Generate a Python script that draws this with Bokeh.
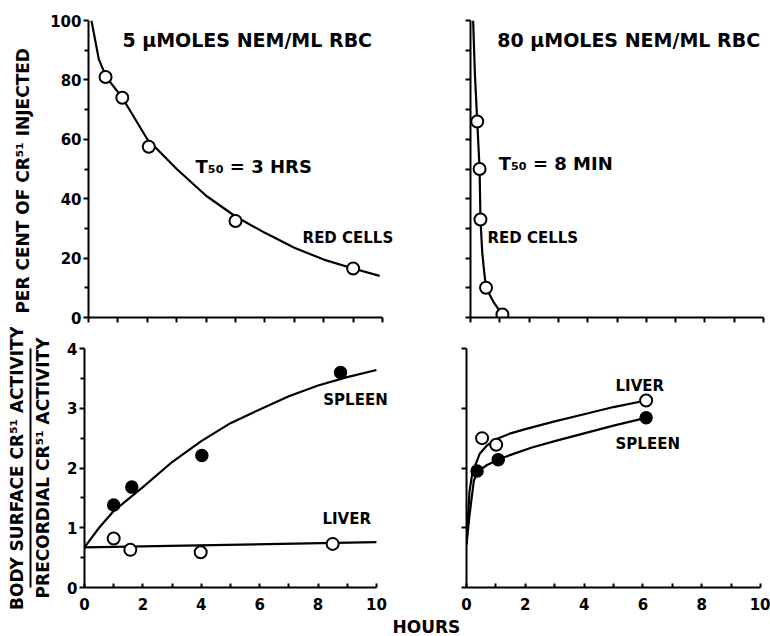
import math
from bokeh.plotting import figure
from bokeh.models import Range1d, FixedTicker, Label, Title, LinearAxis, CustomJSTickFormatter
from bokeh.layouts import column, row
from bokeh.embed import file_html
from bokeh.resources import INLINE

# ---------------- data ----------------
# Top-left: 5 umoles NEM/ml RBC, red cells (% of Cr51 injected)
tl_pts_x = [0.58, 1.15, 2.05, 5.0, 9.0]
tl_pts_y = [81, 74, 57.5, 32.5, 16.5]
tl_curve_x = [0.1, 0.35, 0.6, 1.15, 2, 3, 4, 5, 6, 7, 8, 9, 9.9]
tl_curve_y = [100, 87, 81, 74, 60, 50, 41, 34, 28.5, 23.5, 19.5, 16.5, 14]

# Top-right: 80 umoles NEM/ml RBC, red cells
tr_pts_x = [0.23, 0.31, 0.34, 0.53, 1.09]
tr_pts_y = [66, 50, 33, 10, 1]
tr_curve_x = [0.09, 0.15, 0.23, 0.31, 0.34, 0.4, 0.46, 0.53, 0.8, 1.09]
tr_curve_y = [100, 82, 66, 50, 33, 22, 16, 10, 5, 0.9]

# Bottom-left: body surface / precordial activity
bl_spleen_x = [1.0, 1.62, 4.02, 8.77]
bl_spleen_y = [1.38, 1.68, 2.21, 3.6]
bl_liver_x = [1.0, 1.57, 3.98, 8.5]
bl_liver_y = [0.82, 0.63, 0.59, 0.73]
bl_spleen_curve_x = [0, 0.5, 1, 2, 3, 4, 5, 6, 7, 8, 9, 10]
bl_spleen_curve_y = [0.67, 1.0, 1.28, 1.68, 2.1, 2.45, 2.75, 2.98, 3.2, 3.38, 3.52, 3.64]
bl_liver_curve_x = [0, 10]
bl_liver_curve_y = [0.67, 0.76]

# Bottom-right
br_liver_x = [0.53, 1.01, 6.11]
br_liver_y = [2.5, 2.39, 3.13]
br_spleen_x = [0.36, 1.08, 6.11]
br_spleen_y = [1.95, 2.14, 2.84]
br_liver_curve_x = [0, 0.1, 0.2, 0.45, 0.7, 1.0, 1.5, 2, 3, 4, 5, 6.1]
br_liver_curve_y = [0.72, 1.6, 1.92, 2.24, 2.38, 2.48, 2.58, 2.65, 2.78, 2.9, 3.02, 3.13]
br_spleen_curve_x = [0, 0.1, 0.25, 0.4, 0.7, 1.08, 1.5, 2.2, 3, 4, 5, 6.1]
br_spleen_curve_y = [0.72, 1.2, 1.79, 1.95, 2.05, 2.14, 2.22, 2.34, 2.45, 2.58, 2.71, 2.84]

hour_ticks = [0, 2, 4, 6, 8, 10]
hour_minor = [1, 3, 5, 7, 9]
pct_ticks = [0, 20, 40, 60, 80, 100]
pct_minor = [10, 30, 50, 70, 90]
ratio_ticks = [0, 1, 2, 3, 4]
ratio_minor = [0.5, 1.5, 2.5, 3.5]

FONT = "DejaVu Sans"
BLANK = CustomJSTickFormatter(code="return ''")


def make_fig(fw, fh, l, r, t, b, xr, yr):
    p = figure(frame_width=fw, frame_height=fh,
               min_border_left=l, min_border_right=r,
               min_border_top=t, min_border_bottom=b,
               x_range=Range1d(*xr), y_range=Range1d(*yr),
               output_backend="svg", toolbar_location=None)
    p.outline_line_color = None
    p.xgrid.grid_line_color = None
    p.ygrid.grid_line_color = None
    p.background_fill_color = "white"
    p.border_fill_color = "white"
    for ax in (p.xaxis[0], p.yaxis[0]):
        ax.axis_line_width = 2
        ax.axis_line_color = "black"
        ax.major_tick_line_width = 2
        ax.minor_tick_line_width = 2
        ax.major_label_text_font = FONT
        ax.major_label_text_font_style = "bold"
        ax.major_label_text_font_size = "15px"
        ax.major_label_text_color = "black"
        ax.axis_label_text_font = FONT
        ax.axis_label_text_font_style = "bold"
        ax.axis_label_text_font_size = "17px"
        ax.axis_label_text_color = "black"
    return p


def style_x(p, labels, ticks, minor, tin, tout):
    ax = p.xaxis[0]
    ax.ticker = FixedTicker(ticks=ticks, minor_ticks=minor)
    ax.bounds = (0, 10)
    ax.major_tick_in = tin
    ax.major_tick_out = tout
    ax.minor_tick_in = tin
    ax.minor_tick_out = tout
    ax.major_label_standoff = 10
    if not labels:
        ax.formatter = BLANK
        ax.major_label_standoff = 0


def style_y(p, labels, ticks, minor):
    ax = p.yaxis[0]
    ax.ticker = FixedTicker(ticks=ticks, minor_ticks=minor)
    ax.major_tick_in = 0
    ax.major_tick_out = 5
    ax.minor_tick_in = 0
    ax.minor_tick_out = 4
    ax.major_label_standoff = 2
    if not labels:
        ax.formatter = BLANK


def lab(p, x, y, text, size="15px", align="left"):
    p.add_layout(Label(x=x, y=y, text=text, text_font=FONT,
                       text_font_style="bold", text_font_size=size,
                       text_align=align, text_baseline="middle",
                       text_color="black"))


def open_pts(p, xs, ys):
    p.scatter(xs, ys, marker="circle", size=12, fill_color="white",
              line_color="black", line_width=2)


def filled_pts(p, xs, ys):
    p.scatter(xs, ys, marker="circle", size=12, fill_color="black",
              line_color="black", line_width=1.5)


# ---------------- top-left ----------------
# frame extends a little past 10 h so the "RED CELLS" text is not clipped
tl = make_fig(312, 297, 88, 0, 20, 10, (0, 10.61), (0, 100))
style_x(tl, False, list(range(11)), [], 0, 5)
style_y(tl, True, pct_ticks, pct_minor)
tl.yaxis[0].axis_label = "PER  CENT  OF  CR⁵¹  INJECTED"
tl.yaxis[0].axis_label_standoff = 14
tl.line(tl_curve_x, tl_curve_y, line_width=2.2, line_color="black")
open_pts(tl, tl_pts_x, tl_pts_y)
lab(tl, 5.51, 93.3, "5 μMOLES  NEM/ML RBC", "19px", "center")
lab(tl, 3.64, 50.8, "T₅₀ = 3 HRS", "18px")
lab(tl, 7.28, 26.9, "RED CELLS", "15px")

# ---------------- top-right ----------------
tr = make_fig(293, 297, 70, 7, 20, 10, (0, 10), (0, 100))
style_x(tr, False, list(range(11)), [], 0, 5)
style_y(tr, False, list(range(0, 101, 10)), [])
tr.line(tr_curve_x, tr_curve_y, line_width=2.2, line_color="black")
open_pts(tr, tr_pts_x, tr_pts_y)
lab(tr, 5.51, 93.3, "80 μMOLES  NEM/ML RBC", "19px", "center")
lab(tr, 0.96, 51.9, "T₅₀ = 8 MIN", "18px")
lab(tr, 0.58, 26.6, "RED CELLS", "15px")

# ---------------- bottom-left ----------------
bl = make_fig(308, 239, 84, 0, 21, 49, (0, 10.55), (0, 4))
style_x(bl, True, hour_ticks, hour_minor, 4, 0)
style_y(bl, True, ratio_ticks, ratio_minor)
bl.yaxis[0].axis_label = "PRECORDIAL CR⁵¹ ACTIVITY"
bl.yaxis[0].axis_label_standoff = 11
num_axis = LinearAxis(ticker=FixedTicker(ticks=[]), axis_label="BODY SURFACE CR⁵¹ ACTIVITY",
                      axis_label_standoff=4, axis_line_width=2, axis_line_color="black",
                      major_tick_out=0, minor_tick_out=0,
                      axis_label_text_font=FONT, axis_label_text_font_style="bold",
                      axis_label_text_font_size="17px", axis_label_text_color="black")
bl.add_layout(num_axis, "left")
bl.line(bl_spleen_curve_x, bl_spleen_curve_y, line_width=2.2, line_color="black")
bl.line(bl_liver_curve_x, bl_liver_curve_y, line_width=2.2, line_color="black")
filled_pts(bl, bl_spleen_x, bl_spleen_y)
open_pts(bl, bl_liver_x, bl_liver_y)
lab(bl, 8.18, 3.13, "SPLEEN", "15px")
lab(bl, 8.15, 1.14, "LIVER", "15px")

# ---------------- bottom-right ----------------
br = make_fig(294, 239, 74, 10, 21, 49, (0, 10), (0, 4))
style_x(br, True, hour_ticks, hour_minor, 4, 0)
style_y(br, False, ratio_ticks, [])
br.line(br_liver_curve_x, br_liver_curve_y, line_width=2.2, line_color="black")
br.line(br_spleen_curve_x, br_spleen_curve_y, line_width=2.2, line_color="black")
open_pts(br, br_liver_x, br_liver_y)
filled_pts(br, br_spleen_x, br_spleen_y)
lab(br, 5.07, 3.38, "LIVER", "15px")
lab(br, 5.07, 2.41, "SPLEEN", "15px")
br.add_layout(Title(text="HOURS", align="left", offset=-74, text_font=FONT,
                    text_font_style="bold", text_font_size="17px",
                    text_color="black", standoff=4), "below")

layout = column(row(tl, tr), row(bl, br))
open("out.html", "w").write(file_html(layout, INLINE))
